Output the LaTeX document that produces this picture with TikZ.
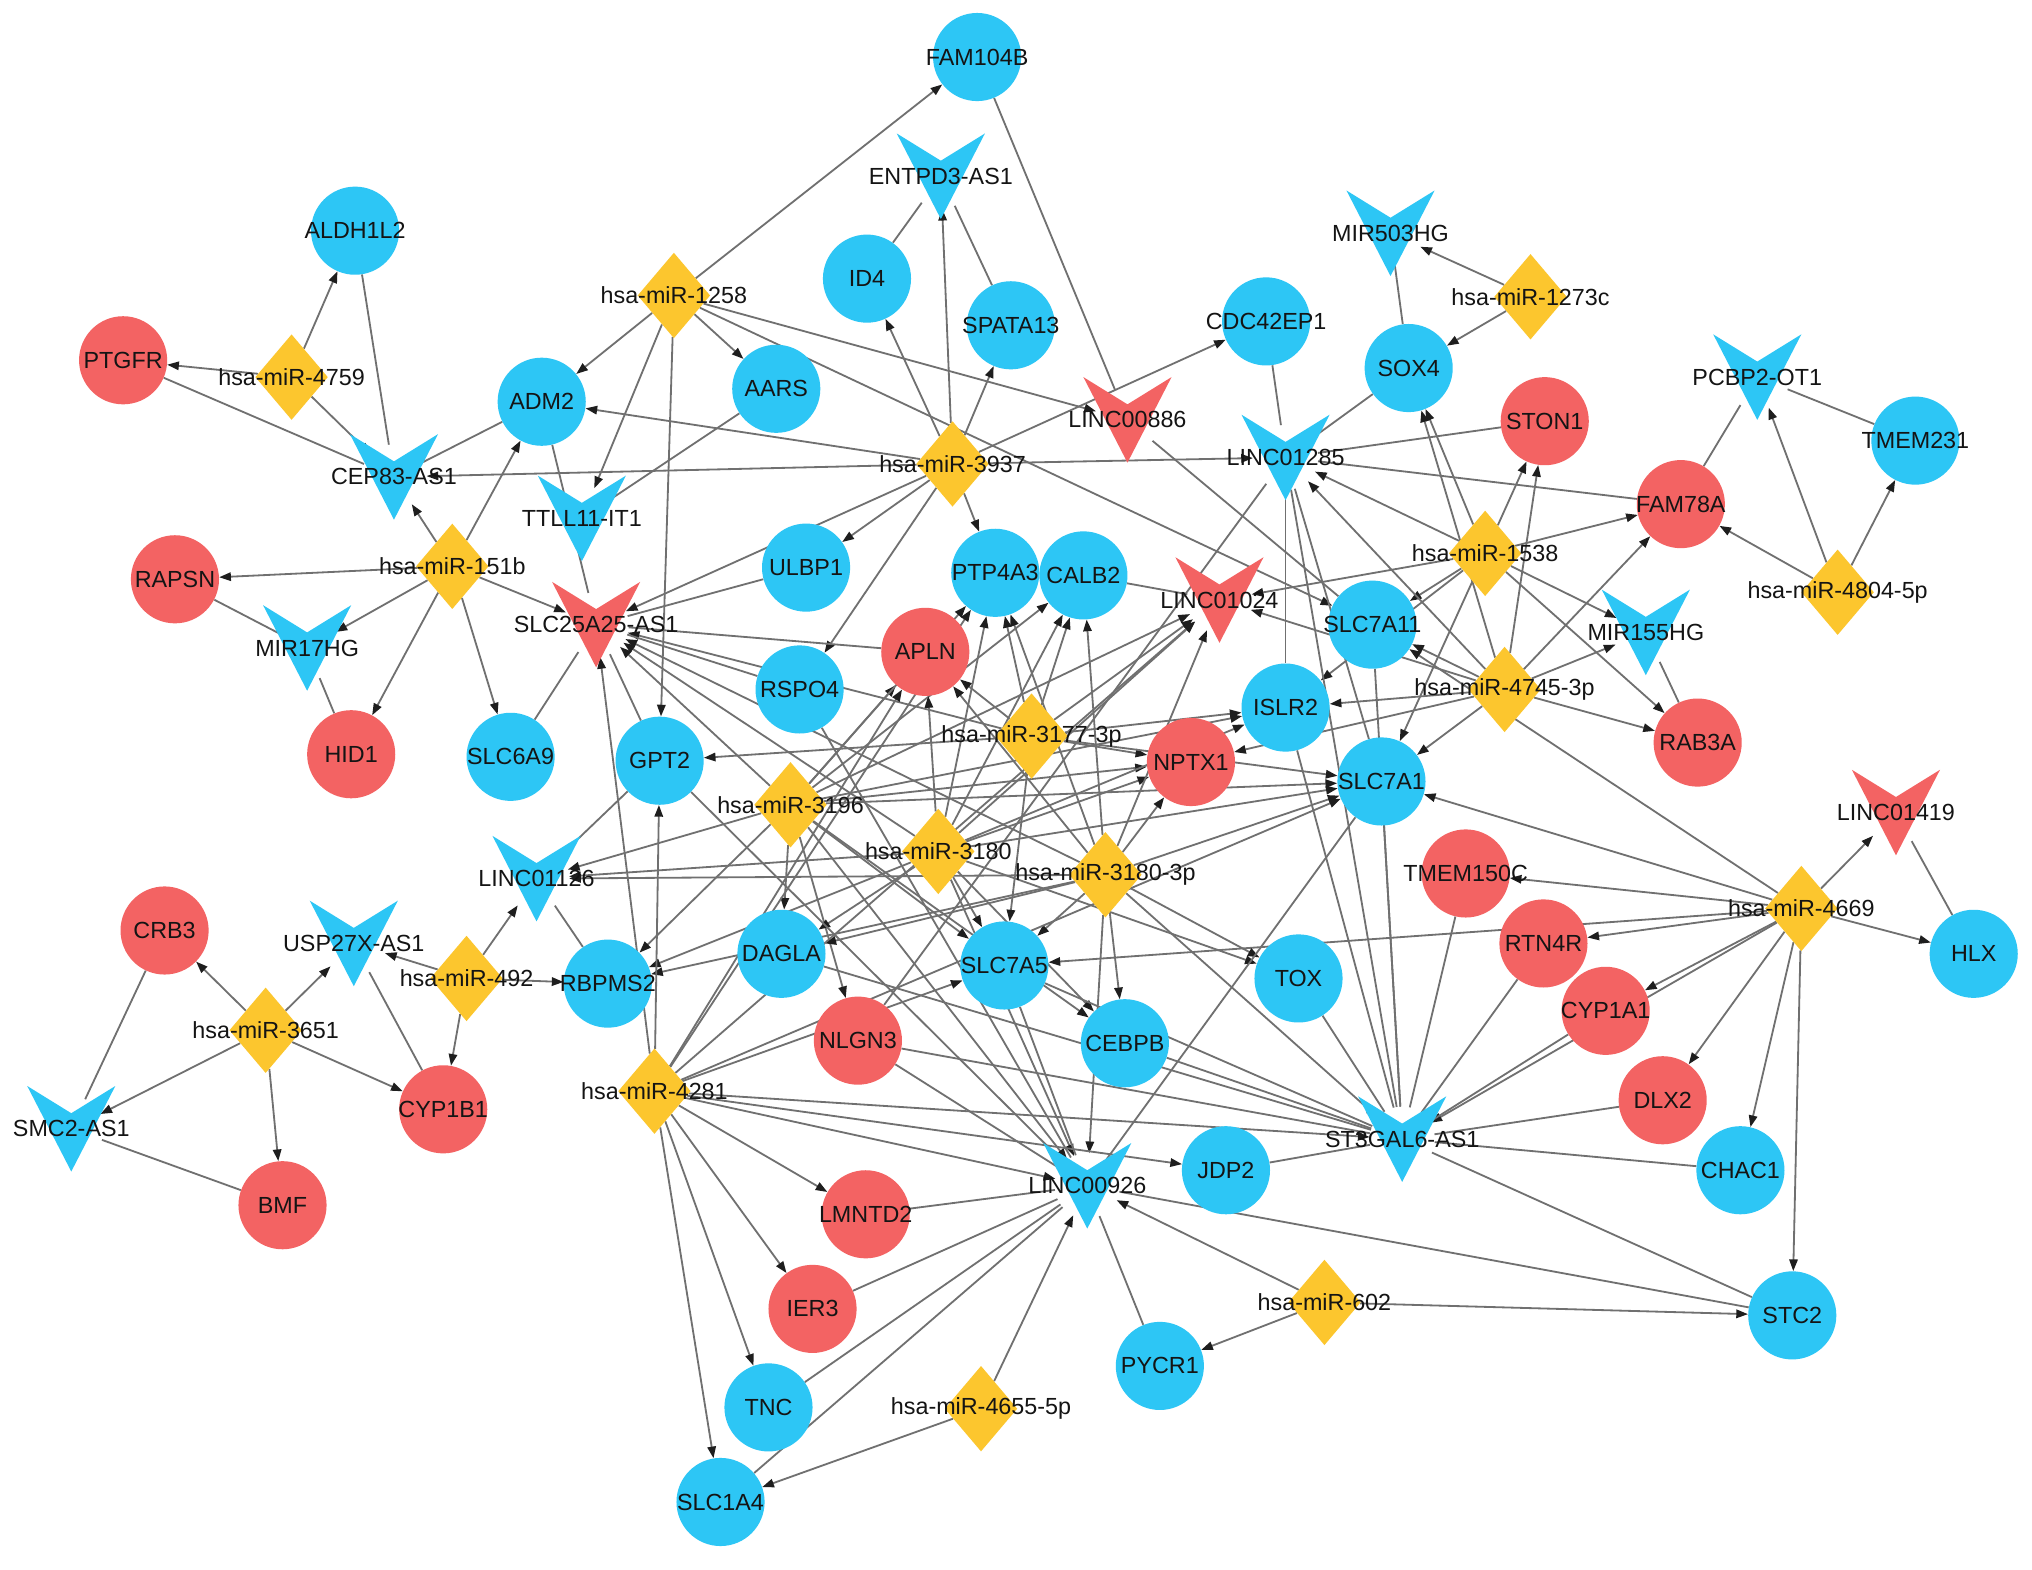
\documentclass[tikz,border=0pt]{standalone}
\usepackage{fontspec}
\setmainfont{Liberation Sans}
\usetikzlibrary{shapes.geometric,arrows.meta}
\definecolor{cblue}{RGB}{45,198,245}
\definecolor{cred}{RGB}{243,99,99}
\definecolor{cyel}{RGB}{252,198,46}
\definecolor{cedge}{RGB}{112,112,112}
\definecolor{ctip}{RGB}{30,30,30}
\pgfdeclarelayer{bg}\pgfdeclarelayer{fg}
\pgfsetlayers{bg,main,fg}
\tikzset{
 circ/.style={circle,minimum size=68pt,inner sep=0pt,draw=none},
 diam/.style={diamond,minimum width=56pt,minimum height=66pt,inner sep=0pt,fill=cyel},
 vanc/.style={circle,minimum size=50pt,inner sep=0pt},
 lab/.style={font=\fontsize{18}{18}\selectfont,text=black!92,inner sep=0pt},
 eline/.style={draw=cedge,line width=1.4pt},
 earrow/.style={eline,-{Triangle[length=9pt,width=6.5pt,color=ctip]}},
}
\newcommand{\mkcirc}[5]{\node[circ,fill=#4] (#1) at (#2,#3) {};\begin{pgfonlayer}{fg}\node[lab] (#1l) at (#2,#3) {#5};\end{pgfonlayer}}
\newcommand{\mkdiam}[4]{\node[diam] (#1) at (#2,#3) {};\begin{pgfonlayer}{fg}\node[lab] (#1l) at (#2,#3) {#4};\end{pgfonlayer}}
\newcommand{\mkvee}[5]{\node[vanc] (#1) at (#2,#3) {};\fill[#4] (#2,#3) ++(-34,-33) -- ++(34,21) -- ++(34,-21) -- ++(-34,66) -- cycle;\begin{pgfonlayer}{fg}\node[lab] (#1l) at (#2,#3) {#5};\end{pgfonlayer}}
\begin{document}
\begin{tikzpicture}[x=1pt,y=-1pt]
\begin{pgfonlayer}{bg}\fill[white] (0,0) rectangle (1568,1211);\end{pgfonlayer}
\useasboundingbox (0,0) rectangle (1568,1211);
% blue circles
\mkcirc{fam}{754}{44}{cblue}{FAM104B}
\mkcirc{id4}{669}{215}{cblue}{ID4}
\mkcirc{spa}{780}{251}{cblue}{SPATA13}
\mkcirc{cdc}{977}{248}{cblue}{CDC42EP1}
\mkcirc{sox}{1087}{284}{cblue}{SOX4}
\mkcirc{ald}{274}{178}{cblue}{ALDH1L2}
\mkcirc{adm}{418}{310}{cblue}{ADM2}
\mkcirc{aars}{599}{300}{cblue}{AARS}
\mkcirc{tm231}{1478}{340}{cblue}{TMEM231}
\mkcirc{ulb}{622}{438}{cblue}{ULBP1}
\mkcirc{ptp}{768}{442}{cblue}{PTP4A3}
\mkcirc{calb}{836}{444}{cblue}{CALB2}
\mkcirc{s7a11}{1059}{482}{cblue}{SLC7A11}
\mkcirc{rspo}{617}{532}{cblue}{RSPO4}
\mkcirc{islr}{992}{546}{cblue}{ISLR2}
\mkcirc{s6a9}{394}{584}{cblue}{SLC6A9}
\mkcirc{gpt}{509}{587}{cblue}{GPT2}
\mkcirc{s7a1}{1066}{603}{cblue}{SLC7A1}
\mkcirc{hlx}{1523}{736}{cblue}{HLX}
\mkcirc{rbp}{469}{759}{cblue}{RBPMS2}
\mkcirc{dag}{603}{736}{cblue}{DAGLA}
\mkcirc{s7a5}{775}{745}{cblue}{SLC7A5}
\mkcirc{tox}{1002}{755}{cblue}{TOX}
\mkcirc{ceb}{868}{805}{cblue}{CEBPB}
\mkcirc{jdp}{946}{903}{cblue}{JDP2}
\mkcirc{chac}{1343}{903}{cblue}{CHAC1}
\mkcirc{stc}{1383}{1015}{cblue}{STC2}
\mkcirc{pyc}{895}{1054}{cblue}{PYCR1}
\mkcirc{tnc}{593}{1086}{cblue}{TNC}
\mkcirc{s1a4}{556}{1159}{cblue}{SLC1A4}
% red circles
\mkcirc{ptg}{95}{278}{cred}{PTGFR}
\mkcirc{ston}{1192}{325}{cred}{STON1}
\mkcirc{f78}{1297}{389}{cred}{FAM78A}
\mkcirc{rap}{135}{447}{cred}{RAPSN}
\mkcirc{apln}{714}{503}{cred}{APLN}
\mkcirc{hid}{271}{582}{cred}{HID1}
\mkcirc{nptx}{919}{588}{cred}{NPTX1}
\mkcirc{rab}{1310}{573}{cred}{RAB3A}
\mkcirc{tm150}{1131}{674}{cred}{TMEM150C}
\mkcirc{rtn}{1191}{728}{cred}{RTN4R}
\mkcirc{cyp1a1}{1239}{780}{cred}{CYP1A1}
\mkcirc{dlx}{1283}{849}{cred}{DLX2}
\mkcirc{crb}{127}{718}{cred}{CRB3}
\mkcirc{cyp1b1}{342}{856}{cred}{CYP1B1}
\mkcirc{bmf}{218}{930}{cred}{BMF}
\mkcirc{nlg}{662}{803}{cred}{NLGN3}
\mkcirc{lmn}{668}{937}{cred}{LMNTD2}
\mkcirc{ier}{627}{1010}{cred}{IER3}
% diamonds
\mkdiam{m1258}{520}{228}{hsa-miR-1258}
\mkdiam{m1273c}{1181}{229}{hsa-miR-1273c}
\mkdiam{m4759}{225}{291}{hsa-miR-4759}
\mkdiam{m3937}{735}{358}{hsa-miR-3937}
\mkdiam{m151b}{349}{437}{hsa-miR-151b}
\mkdiam{m1538}{1146}{427}{hsa-miR-1538}
\mkdiam{m4804}{1418}{457}{hsa-miR-4804-5p}
\mkdiam{m4745}{1161}{532}{hsa-miR-4745-3p}
\mkdiam{m3177}{796}{568}{hsa-miR-3177-3p}
\mkdiam{m3196}{610}{621}{hsa-miR-3196}
\mkdiam{m3180}{724}{657}{hsa-miR-3180}
\mkdiam{m3180b}{853}{675}{hsa-miR-3180-3p}
\mkdiam{m4669}{1390}{701}{hsa-miR-4669}
\mkdiam{m492}{360}{755}{hsa-miR-492}
\mkdiam{m3651}{205}{795}{hsa-miR-3651}
\mkdiam{m4281}{505}{842}{hsa-miR-4281}
\mkdiam{m602}{1022}{1005}{hsa-miR-602}
\mkdiam{m4655}{757}{1087}{hsa-miR-4655-5p}
% V shapes
\mkvee{entpd}{726}{136}{cblue}{ENTPD3-AS1}
\mkvee{mir503}{1073}{180}{cblue}{MIR503HG}
\mkvee{pcbp}{1356}{291}{cblue}{PCBP2-OT1}
\mkvee{cep}{304}{368}{cblue}{CEP83-AS1}
\mkvee{ttll}{449}{400}{cblue}{TTLL11-IT1}
\mkvee{l1285}{992}{353}{cblue}{LINC01285}
\mkvee{mir17}{237}{500}{cblue}{MIR17HG}
\mkvee{mir155}{1270}{488}{cblue}{MIR155HG}
\mkvee{l1126}{414}{678}{cblue}{LINC01126}
\mkvee{usp}{273}{728}{cblue}{USP27X-AS1}
\mkvee{smc2}{55}{871}{cblue}{SMC2-AS1}
\mkvee{st3}{1082}{879}{cblue}{ST3GAL6-AS1}
\mkvee{l926}{839}{915}{cblue}{LINC00926}
\mkvee{l886}{870}{324}{cred}{LINC00886}
\mkvee{l1024}{941}{463}{cred}{LINC01024}
\mkvee{slc25}{460}{482}{cred}{SLC25A25-AS1}
\mkvee{l1419}{1463}{627}{cred}{LINC01419}
% edges
\begin{pgfonlayer}{bg}
\foreach \tg in {ald,ptg,cep} \draw[earrow] (m4759) -- (\tg);
\foreach \tg in {fam,adm,aars,ttll,gpt,l886,s7a11} \draw[earrow] (m1258) -- (\tg);
\foreach \tg in {entpd,id4,spa,cdc,adm,cep,l1285,ulb,slc25,rspo,ptp} \draw[earrow] (m3937) -- (\tg);
\foreach \tg in {cep,adm,rap,mir17,hid,s6a9,slc25} \draw[earrow] (m151b) -- (\tg);
\foreach \tg in {mir503,sox} \draw[earrow] (m1273c) -- (\tg);
\foreach \tg in {sox,ston,l1285,f78,mir155,rab,l1024,s7a1,islr,s7a11} \draw[earrow] (m1538) -- (\tg);
\foreach \tg in {f78,mir155,rab,s7a11,islr,s7a1,sox,ston,l1285,nptx,l1024} \draw[earrow] (m4745) -- (\tg);
\foreach \tg in {pcbp,tm231,f78} \draw[earrow] (m4804) -- (\tg);
\foreach \tg in {l1419,hlx,tm150,rtn,cyp1a1,dlx,chac,stc,s7a1,s7a5,s7a11,st3} \draw[earrow] (m4669) -- (\tg);
\foreach \tg in {usp,l1126,rbp,cyp1b1} \draw[earrow] (m492) -- (\tg);
\foreach \tg in {crb,usp,smc2,bmf,cyp1b1} \draw[earrow] (m3651) -- (\tg);
\foreach \tg in {l926,pyc,stc} \draw[earrow] (m602) -- (\tg);
\foreach \tg in {l926,s1a4} \draw[earrow] (m4655) -- (\tg);
\foreach \tg in {slc25,l1126,rbp,apln,ptp,calb,l1024,islr,nptx,s7a1,dag,nlg,s7a5,ceb,l926} \draw[earrow] (m3196) -- (\tg);
\foreach \tg in {slc25,l1126,rbp,apln,ptp,calb,l1024,islr,nptx,s7a1,s7a5,ceb,tox,l926,dag} \draw[earrow] (m3180) -- (\tg);
\foreach \tg in {slc25,l1126,rbp,dag,apln,ptp,calb,l1024,nptx,s7a1,s7a5,ceb,tox,st3,l926} \draw[earrow] (m3180b) -- (\tg);
\foreach \tg in {slc25,gpt,apln,ptp,calb,l1024,nptx,islr,s7a1,s7a5} \draw[earrow] (m3177) -- (\tg);
\foreach \tg in {slc25,gpt,apln,ptp,l1024,s7a1,s7a5,st3,l926,jdp,lmn,ier,tnc,s1a4} \draw[earrow] (m4281) -- (\tg);
\foreach \ua/\ub in {ald/cep,ptg/cep,adm/cep,adm/slc25,aars/ttll,fam/l886,l886/s7a11,entpd/id4,entpd/spa,mir503/sox,sox/l1285,cdc/l1285,l1285/ston,l1285/f78,l1285/islr,l1285/s7a1,l1285/st3,l1285/nlg,pcbp/tm231,pcbp/f78,mir155/rab,rap/mir17,mir17/hid,s6a9/slc25,ulb/slc25,apln/slc25,rspo/slc25,gpt/slc25,gpt/l1126,l1126/rbp,usp/cyp1b1,crb/smc2,smc2/bmf,calb/l1024,l1419/hlx,islr/st3,s7a11/st3,s7a1/st3,s7a1/l926,tox/st3,ceb/st3,s7a5/st3,dag/st3,nlg/st3,rtn/st3,tm150/st3,cyp1a1/st3,dlx/st3,chac/st3,stc/st3,jdp/st3,stc/l926,pyc/l926,s1a4/l926,tnc/l926,ier/l926,lmn/l926,nlg/l926,s7a5/l926,rspo/l926,gpt/l926}
  \draw[eline] (\ua) -- (\ub);
\end{pgfonlayer}
\end{tikzpicture}
\end{document}
